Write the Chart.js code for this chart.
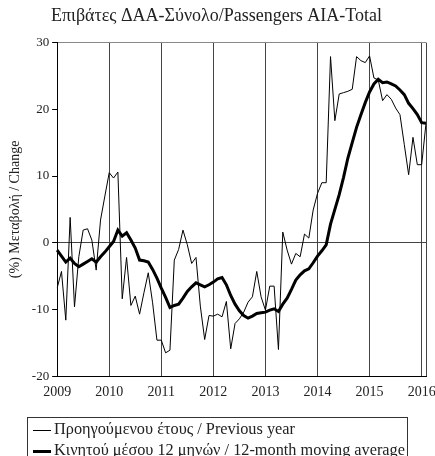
<!DOCTYPE html>
<html>
<head>
<meta charset="utf-8">
<script src="https://cdn.jsdelivr.net/npm/chart.js@4"></script>
<style>
  body { margin: 0; background: #fff; }
  #wrap { position: relative; width: 435px; height: 456px; }
  #legend {
    position: absolute; left: 27px; top: 417px; width: 381px; height: 50px;
    border: 1px solid #333; border-bottom: none; box-sizing: border-box;
    font-family: "Liberation Serif", serif; font-size: 16.3px; color: #222;
  }
  .item { position: absolute; left: 5px; white-space: nowrap; }
  .item span.ln { display: inline-block; width: 18px; vertical-align: middle; margin-right: 3px; background: #000; }
</style>
</head>
<body>
<div id="wrap">
  <canvas id="myChart" width="435" height="456"></canvas>
  <div id="legend">
    <div class="item" style="top:1px"><span class="ln" style="height:1px"></span>Προηγούμενου έτους / Previous year</div>
    <div class="item" style="top:22px"><span class="ln" style="height:3px"></span>Κινητού μέσου 12 μηνών / 12-month moving average</div>
  </div>
</div>
<script>
var years = ["2009","2010","2011","2012","2013","2014","2015","2016"];
var nMonths = 86; // Jan 2009 - Feb 2016

var prev_year = [
  -6.8,-4.3,-11.6,3.8,-9.6,-2.1,1.9,2.1,0.4,-4.1,3.4,7.0,
  10.5,9.7,10.6,-8.4,-2.2,-9.4,-8.0,-10.7,-7.5,-4.5,-9.0,-14.6,
  -14.6,-16.5,-16.1,-2.6,-1.0,1.9,-0.3,-3.1,-2.2,-9.5,-14.5,-10.9,
  -11.0,-10.7,-11.1,-8.8,-15.9,-12.1,-11.4,-10.4,-8.9,-8.1,-4.3,-8.1,
  -10.1,-6.5,-6.5,-16.0,1.6,-1.1,-3.2,-1.6,-2.1,1.3,0.7,4.9,
  7.4,9.0,9.0,27.9,18.3,22.3,22.5,22.7,23.0,27.9,27.3,27.0,
  28.0,24.7,24.4,21.3,22.2,21.5,20.2,19.2,14.7,10.2,15.8,11.7,
  11.7,17.9
];
var moving_avg = [
  -1.1,-2.0,-2.9,-2.3,-3.1,-3.6,-3.2,-2.8,-2.4,-2.9,-2.1,-1.4,
  -0.6,0.2,1.9,1.0,1.5,0.4,-0.8,-2.6,-2.7,-2.9,-4.0,-5.3,
  -6.8,-8.2,-9.7,-9.4,-9.2,-8.3,-7.3,-6.6,-6.0,-6.3,-6.6,-6.3,
  -5.9,-5.4,-5.2,-6.3,-7.9,-9.2,-10.2,-10.9,-11.3,-11.0,-10.6,-10.5,
  -10.4,-10.1,-9.9,-10.3,-9.2,-8.3,-7.0,-5.6,-4.8,-4.2,-3.9,-3.0,
  -2.0,-1.2,-0.3,2.8,5.0,7.2,9.8,12.7,15.0,17.3,19.2,21.0,
  22.6,23.8,24.5,24.0,24.1,23.8,23.5,22.9,22.2,20.9,20.1,19.2,
  18.0,17.9
];
var y_ticks = [30, 20, 10, 0, -10, -20];

var labels = [];
for (var i = 0; i < nMonths; i++) {
    labels.push(years[Math.floor(i / 12)] + "-" + (i % 12 + 1));
}

var serif = "'Liberation Serif', serif";
var ctx = document.getElementById("myChart").getContext("2d");

var lineChart = new Chart(ctx, {
    type: "line",
    data: {
        labels: labels,
        datasets: [
            {
                data: prev_year,
                borderColor: "#000",
                borderWidth: 1,
                pointRadius: 0,
                tension: 0
            },
            {
                data: moving_avg,
                borderColor: "#000",
                borderWidth: 3,
                pointRadius: 0,
                tension: 0
            }
        ]
    },
    options: {
        responsive: false,
        animation: false,
        layout: { padding: { left: 7, right: 9, top: 0, bottom: 47 } },
        plugins: {
            legend: { display: false },
            tooltip: { enabled: false },
            title: {
                display: true,
                text: "Επιβάτες ΔΑΑ-Σύνολο/Passengers AIA-Total",
                color: "#222",
                font: { family: serif, size: 18, weight: "normal" },
                padding: { top: 5, bottom: 16 }
            }
        },
        scales: {
            x: {
                offset: false,
                border: { color: "#000", width: 1 },
                grid: {
                    drawTicks: false,
                    color: function (c) {
                        return c.index === nMonths - 1 ? "#888" : "#444";
                    }
                },
                ticks: {
                    autoSkip: false,
                    maxRotation: 0,
                    padding: 8,
                    color: "#222",
                    font: { family: serif, size: 14 },
                    callback: function (v, i) {
                        if (i % 12 === 0) return years[i / 12];
                        if (i === nMonths - 1) return "";
                        return null;
                    }
                }
            },
            y: {
                min: -20,
                max: 30,
                afterBuildTicks: function (axis) {
                    axis.ticks = y_ticks.map(function (v) { return { value: v }; });
                },
                border: { color: "#000", width: 1 },
                grid: {
                    tickLength: 5,
                    tickColor: "#000",
                    color: function (c) {
                        var v = c.tick.value;
                        if (v === 0) return "#444";
                        if (v === 30) return "#888";
                        return "rgba(0,0,0,0)";
                    }
                },
                ticks: {
                    padding: 3,
                    color: "#222",
                    font: { family: serif, size: 13 }
                },
                title: {
                    display: true,
                    text: "(%) Μεταβολή / Change",
                    color: "#222",
                    font: { family: serif, size: 14 },
                    padding: { top: 0, bottom: 5 }
                }
            }
        }
    }
});
</script>
</body>
</html>
